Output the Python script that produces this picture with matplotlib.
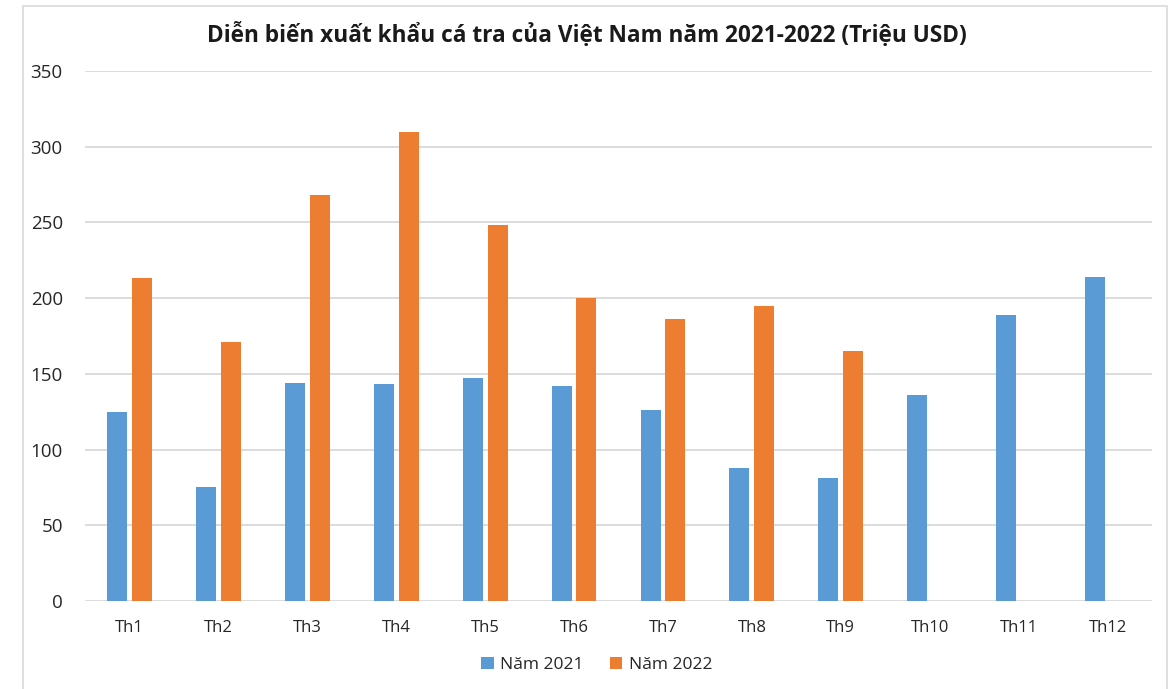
import matplotlib.pyplot as plt
import numpy as np

# data (million USD)
months = ['Th1', 'Th2', 'Th3', 'Th4', 'Th5', 'Th6',
          'Th7', 'Th8', 'Th9', 'Th10', 'Th11', 'Th12']
y2021 = [125, 75, 144, 143, 147, 142, 126, 88, 81, 136, 189, 214]
y2022 = [213, 171, 268, 310, 248, 200, 186, 195, 165]

plt.rcParams['font.family'] = ['Open Sans', 'DejaVu Sans']

fig = plt.figure(figsize=(11.74, 6.89), dpi=100)
ax = fig.add_axes([85 / 1174, 1 - 601 / 689, (1152 - 85) / 1174, (601 - 71) / 689])

x = np.arange(len(months))
w = 0.225
ax.bar(x - 0.14, y2021, w, color='#5B9BD5', label='Năm 2021', zorder=3)
ax.bar(x[:len(y2022)] + 0.14, y2022, w, color='#ED7D31', label='Năm 2022', zorder=3)

ax.set_xlim(-0.5, len(months) - 0.5)
ax.set_ylim(0, 350)
ax.set_yticks(range(0, 351, 50))
ax.set_xticks(x, months)
ax.tick_params(axis='both', length=0, colors='#262626')
ax.tick_params(axis='y', pad=16, labelsize=13.5)
ax.tick_params(axis='x', pad=14, labelsize=12)
ax.grid(axis='y', color='#D9D9D9', linewidth=1.3, zorder=0)
for s in ax.spines.values():
    s.set_visible(False)

fig.suptitle('Diễn biến xuất khẩu cá tra của Việt Nam năm 2021-2022 (Triệu USD)',
             y=1 - 35 / 689, va='center', fontsize=16.3, fontweight='bold', color='#1a1a1a')

fig.legend(loc='center', bbox_to_anchor=(597 / 1174, 1 - 665 / 689), ncol=2,
           frameon=False, fontsize=12.5, handlelength=0.7, handleheight=0.7,
           handletextpad=0.4, columnspacing=1.5, labelcolor='#262626')

# thin frame around the chart
border = plt.Rectangle((22.5 / 1174, -0.01), (1166.5 - 22.5) / 1174, 1 - 5.5 / 689 + 0.01,
                       transform=fig.transFigure, fill=False, edgecolor='#D9D9D9', linewidth=1.2)
fig.add_artist(border)

fig.savefig('out.png', dpi=100)
